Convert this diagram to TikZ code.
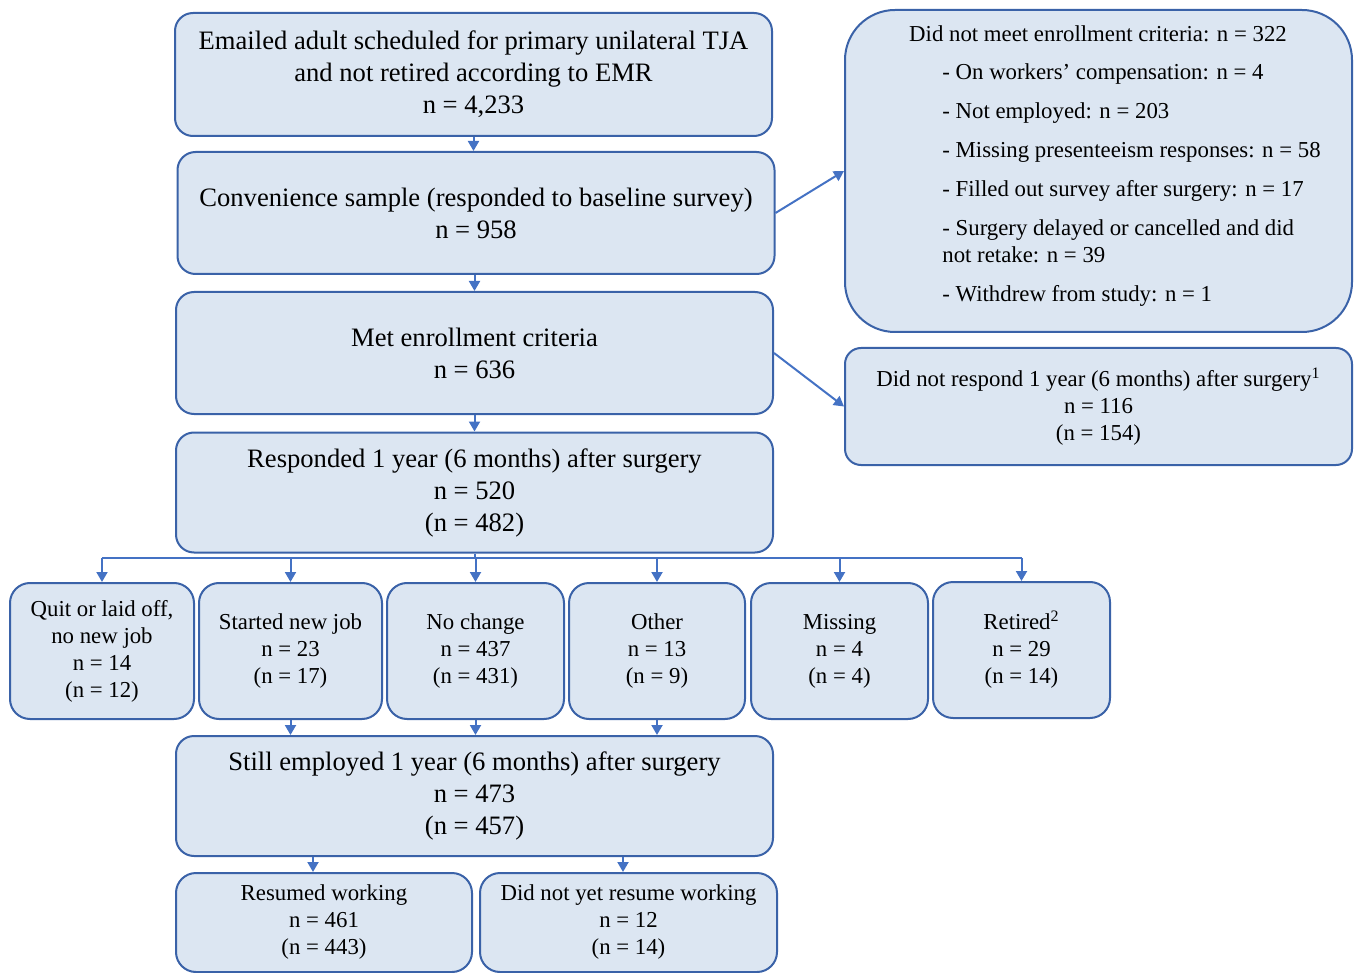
\documentclass[tikz,border=0pt]{standalone}
\usepackage{fontspec}
\setmainfont{Liberation Serif}
\usetikzlibrary{arrows.meta,calc}
\definecolor{boxfill}{HTML}{DCE6F2}
\definecolor{boxline}{HTML}{3A62A8}
\definecolor{arrowblue}{HTML}{4472C4}
\tikzset{
  box/.style={draw=boxline, fill=boxfill, line width=1pt, rounded corners=9pt, inner sep=0pt, align=center},
  mainbox/.style={box, minimum width=298.5pt, font=\fontsize{13.3}{16}\selectfont},
  sidebox/.style={box, minimum width=253.5pt, font=\fontsize{11.4}{13.5}\selectfont},
  groupbox/.style={box, rounded corners=10pt, minimum height=68pt, font=\fontsize{11.4}{13.5}\selectfont},
  endbox/.style={box, rounded corners=10pt, minimum height=49.5pt, font=\fontsize{11.4}{13.5}\selectfont},
  smalltext/.style={font=\fontsize{11.4}{13.5}\selectfont, inner sep=0pt},
  arr/.style={draw=arrowblue, line width=1pt, -{Triangle[width=5.5pt,length=5pt]}},
  link/.style={draw=arrowblue, line width=1pt},
}
\begin{document}
\begin{tikzpicture}[x=0.5pt, y=-0.5pt]
\useasboundingbox (0,0) rectangle (1355,973);

% main column
\node[mainbox, minimum height=61.5pt] (emailed) at (473.5,74.5) {Emailed adult scheduled for primary unilateral TJA\\and not retired according to EMR\\n = 4,233};
\node[mainbox, minimum height=61pt] (conv) at (476,213) {Convenience sample (responded to baseline survey)\\n = 958};
\node[mainbox, minimum height=61pt] (met) at (474.5,353) {Met enrollment criteria\\n = 636};
\node[mainbox, minimum height=60pt] (resp) at (474.5,492.5) {Responded 1 year (6 months) after surgery\\n = 520\\(n = 482)};

% exclusions on the right
\node[sidebox, rounded corners=25pt, minimum height=161pt] (excl) at (1098.5,171) {};
\node[smalltext] (excltitle) at (1098,34) {Did not meet enrollment criteria: n = 322};
\node[smalltext, anchor=north west, align=left] (excllist) at (942,63) {- On workers’ compensation: n = 4\\[6pt]
- Not employed: n = 203\\[6pt]
- Missing presenteeism responses: n = 58\\[6pt]
- Filled out survey after surgery: n = 17\\[6pt]
- Surgery delayed or cancelled and did\\not retake: n = 39\\[6pt]
- Withdrew from study: n = 1};
\node[sidebox, rounded corners=8pt, minimum height=58.5pt] (noresp) at (1098.5,406.5) {Did not respond 1 year (6 months) after surgery\textsuperscript{1}\\n = 116\\(n = 154)};

% employment status groups
\node[groupbox, minimum width=92pt] (quit) at (102,651) {Quit or laid off,\\no new job\\n = 14\\(n = 12)};
\node[groupbox, minimum width=91.5pt] (started) at (290.5,651) {Started new job\\n = 23\\(n = 17)};
\node[groupbox, minimum width=88.5pt] (nochange) at (475.5,651) {No change\\n = 437\\(n = 431)};
\node[groupbox, minimum width=88pt] (other) at (657,651) {Other\\n = 13\\(n = 9)};
\node[groupbox, minimum width=88.5pt] (missing) at (839.5,651) {Missing\\n = 4\\(n = 4)};
\node[groupbox, minimum width=88.5pt] (retired) at (1021.5,650) {Retired\textsuperscript{2}\\n = 29\\(n = 14)};

\node[mainbox, minimum height=60pt] (still) at (474.5,796) {Still employed 1 year (6 months) after surgery\\n = 473\\(n = 457)};
\node[endbox, minimum width=148pt] (resumed) at (324,922.5) {Resumed working\\n = 461\\(n = 443)};
\node[endbox, minimum width=148.5pt] (notyet) at (628.5,922.5) {Did not yet resume working\\n = 12\\(n = 14)};

% connectors
\draw[arr] (emailed.south) -- (emailed.south |- conv.north);
\draw[arr] (met.north |- conv.south) -- (met.north);
\draw[arr] (met.south) -- (resp.north);
\draw[arr] (conv.east) -- (excl.west);
\draw[arr] (met.east) -- (noresp.west);

\coordinate (split) at (479,558);
\draw[link] (resp.south) -- (resp.south |- split);
\draw[link] (quit.north |- split) -- (retired.north |- split);
\foreach \grp in {quit,started,nochange,other,missing,retired}
  \draw[arr] (\grp.north |- split) -- (\grp.north);
\foreach \grp in {started,nochange,other}
  \draw[arr] (\grp.south) -- (\grp.south |- still.north);

\coordinate (resx) at ($(resumed.north)+(-11,0)$);
\coordinate (notx) at ($(notyet.north)+(-5.5,0)$);
\draw[arr] (resx |- still.south) -- (resx);
\draw[arr] (notx |- still.south) -- (notx);
\end{tikzpicture}
\end{document}
